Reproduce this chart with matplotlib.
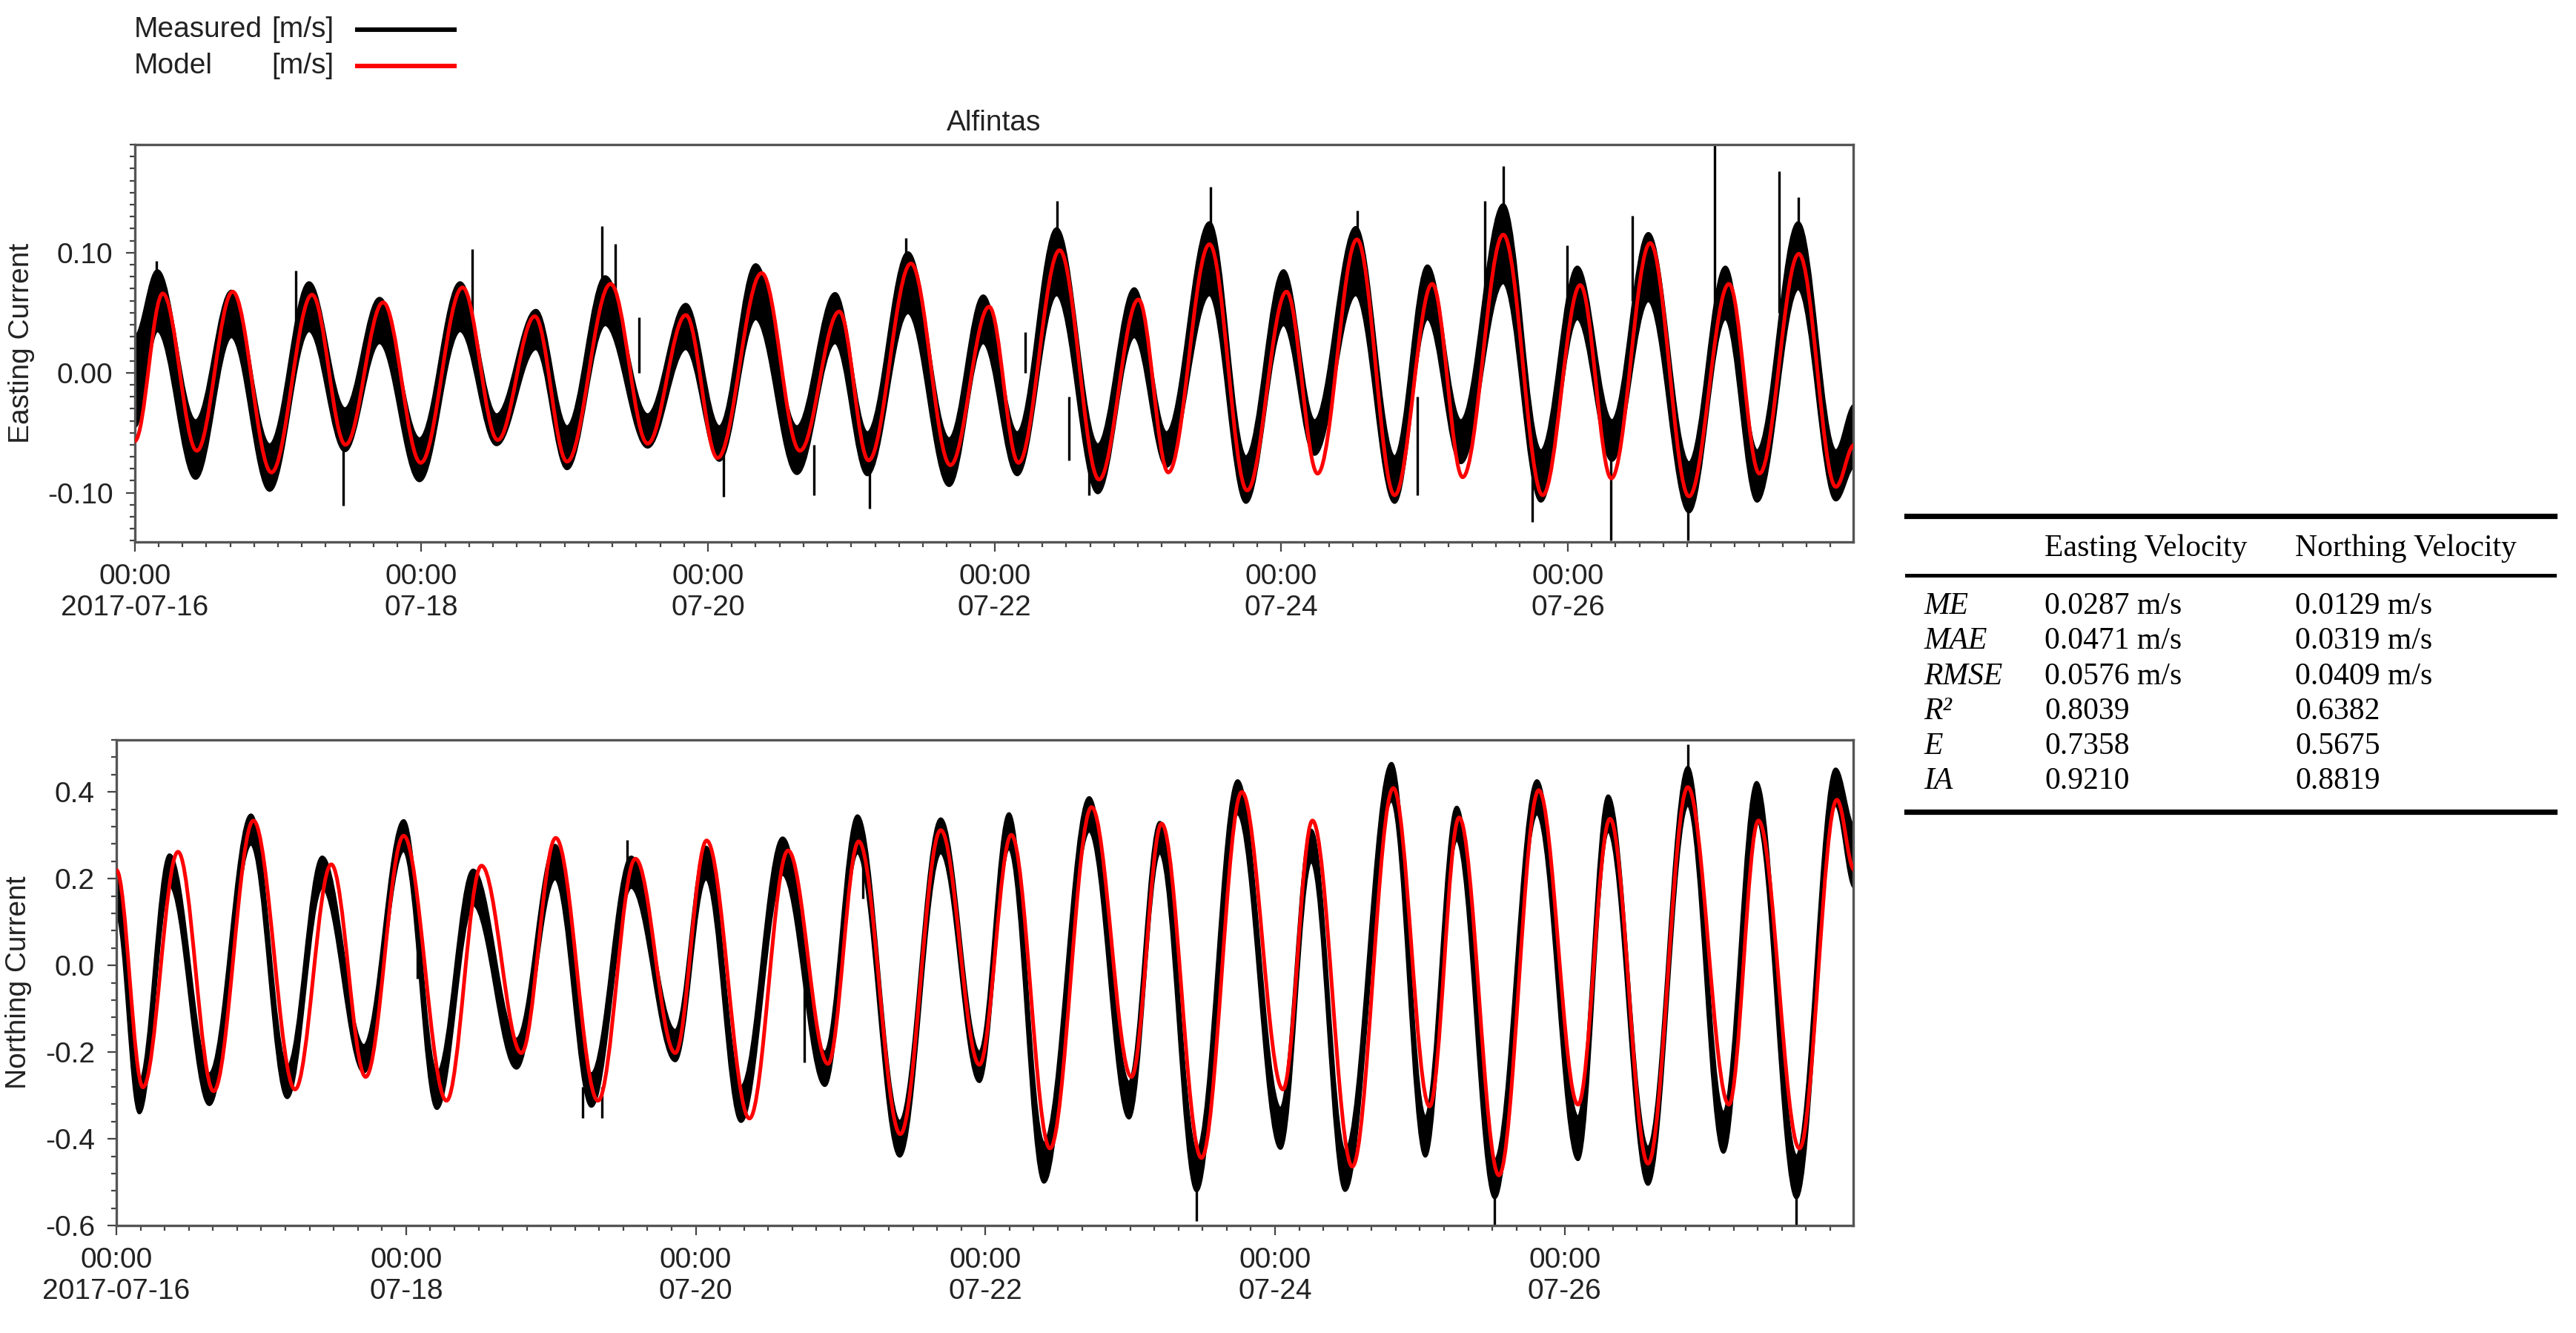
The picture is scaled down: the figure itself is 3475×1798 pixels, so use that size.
import numpy as np
import matplotlib
matplotlib.use('Agg')
import matplotlib.pyplot as plt
import matplotlib.dates as mdates
from matplotlib.path import Path
from matplotlib.patches import PathPatch
from matplotlib.lines import Line2D
from matplotlib.ticker import MultipleLocator, FixedLocator, FormatStrFormatter
from datetime import datetime

# ---- data (hours since 2017-07-16 00:00 at the turning points) ----
# Easting, model (red)
mod_e_t = [0, 4.7, 10.4, 16.4, 22.9, 29.7, 35.3, 41.6, 47.9, 54.9, 60.8, 67.0, 72.4, 79.7, 85.9, 92.3,
           97.6, 105.0, 111.4, 118.0, 122.9, 130.0, 136.6, 143.1, 148.0, 154.9, 161.5, 168.1, 173.1,
           180.0, 186.3, 192.9, 198.1, 204.7, 211.0, 217.3, 222.4, 229.2, 235.8, 242.1, 247.3, 253.8,
           260.3, 267.0, 272.1, 278.7, 284.9, 288]
mod_e_v = [-0.057, 0.066, -0.065, 0.0675, -0.083, 0.065, -0.060, 0.0586, -0.075, 0.071, -0.056, 0.047,
           -0.074, 0.074, -0.059, 0.048, -0.071, 0.083, -0.065, 0.051, -0.073, 0.091, -0.077, 0.055,
           -0.075, 0.102, -0.089, 0.061, -0.083, 0.107, -0.098, 0.0675, -0.084, 0.111, -0.102, 0.074,
           -0.087, 0.115, -0.102, 0.073, -0.088, 0.108, -0.103, 0.074, -0.084, 0.099, -0.095, -0.06]

# Easting, measured (black band: upper / lower edge at each turning point)
meas_e_t = [0, 3.8, 10.2, 16.2, 22.6, 29.2, 35.2, 41.0, 47.7, 54.5, 60.6, 67.2, 72.4, 78.8, 85.9, 92.3,
            97.9, 104.0, 110.9, 117.3, 122.7, 129.5, 136.4, 142.1, 147.8, 154.4, 161.3, 167.4, 172.8,
            180.0, 186.1, 192.4, 197.6, 204.5, 211.0, 216.5, 222.1, 229.2, 235.5, 241.6, 247.4, 253.5,
            260.3, 266.4, 271.7, 278.6, 284.9, 288]
meas_e_hi = [0.03, 0.085, -0.04, 0.068, -0.06, 0.075, -0.03, 0.062, -0.055, 0.075, -0.035, 0.052,
             -0.045, 0.08, -0.035, 0.057, -0.045, 0.09, -0.045, 0.066, -0.05, 0.1, -0.055, 0.064,
             -0.05, 0.12, -0.06, 0.07, -0.05, 0.125, -0.07, 0.085, -0.04, 0.121, -0.07, 0.089,
             -0.04, 0.14, -0.065, 0.088, -0.04, 0.116, -0.075, 0.088, -0.065, 0.125, -0.065, -0.027]
meas_e_lo = [-0.045, 0.035, -0.088, 0.03, -0.098, 0.035, -0.065, 0.025, -0.09, 0.035, -0.06, 0.02,
             -0.08, 0.04, -0.062, 0.02, -0.073, 0.045, -0.084, 0.025, -0.085, 0.05, -0.094, 0.025,
             -0.085, 0.065, -0.10, 0.03, -0.078, 0.065, -0.108, 0.04, -0.068, 0.065, -0.108, 0.045,
             -0.075, 0.075, -0.107, 0.045, -0.073, 0.06, -0.116, 0.045, -0.107, 0.07, -0.106, -0.078]

# Easting, single spikes in the measured record: time, from, to
spk_e_t = [3.6, 27.0, 34.9, 56.5, 78.3, 80.5, 84.5, 98.6, 113.8, 123.1, 129.1, 149.1, 154.5, 156.4,
           159.8, 180.2, 204.7, 214.8, 226.1, 229.2, 234.1, 239.9, 247.2, 250.8, 260.1, 264.6, 275.4, 278.6]
spk_e_y0 = [0.06, 0.04, -0.05, 0.04, 0.06, 0.06, 0.0, -0.06, -0.06, -0.06, 0.09, 0.0, 0.1, -0.02,
            -0.06, 0.1, 0.11, -0.02, 0.06, 0.12, -0.08, 0.06, -0.06, 0.06, -0.09, 0.05, 0.05, 0.1]
spk_e_y1 = [0.093, 0.085, -0.111, 0.103, 0.122, 0.107, 0.046, -0.103, -0.102, -0.113, 0.112, 0.034,
            0.143, -0.073, -0.102, 0.155, 0.135, -0.102, 0.143, 0.172, -0.124, 0.106, -0.14, 0.131,
            -0.14, 0.19, 0.168, 0.146]

# Northing, model (red)
mod_n_t = [0, 4.4, 10.2, 16.1, 22.7, 29.6, 35.6, 41.3, 47.6, 54.7, 60.5, 67.1, 72.8, 79.8, 86.0, 92.6,
           97.8, 104.9, 111.3, 117.9, 123.0, 129.9, 136.6, 143.0, 148.3, 154.7, 161.6, 168.2, 173.2,
           179.8, 186.5, 193.3, 198.2, 204.8, 211.6, 217.6, 222.5, 229.1, 235.7, 242.2, 247.5, 253.8,
           260.4, 267.2, 272.1, 278.9, 285.1, 288]
mod_n_v = [0.22, -0.281, 0.262, -0.290, 0.334, -0.286, 0.233, -0.257, 0.299, -0.312, 0.230, -0.202,
           0.294, -0.312, 0.246, -0.202, 0.288, -0.353, 0.265, -0.227, 0.286, -0.389, 0.312, -0.229,
           0.301, -0.422, 0.365, -0.257, 0.327, -0.444, 0.40, -0.286, 0.334, -0.464, 0.409, -0.325,
           0.341, -0.484, 0.404, -0.321, 0.338, -0.457, 0.411, -0.321, 0.334, -0.422, 0.382, 0.22]

# Northing, measured
meas_n_t = [0, 3.8, 8.8, 15.4, 22.3, 28.3, 34.1, 41.0, 47.6, 53.1, 59.1, 66.3, 72.7, 78.7, 85.3, 92.6,
            97.7, 103.5, 110.4, 117.4, 122.8, 129.8, 136.6, 143.0, 147.9, 153.7, 161.2, 167.8, 172.9,
            179.0, 185.8, 192.9, 198.0, 203.6, 211.3, 216.9, 222.1, 228.4, 235.4, 242.2, 247.2, 253.8,
            260.4, 266.3, 271.8, 278.4, 284.9, 288]
meas_n_hi = [0.2, -0.27, 0.255, -0.25, 0.347, -0.235, 0.25, -0.185, 0.334, -0.25, 0.22, -0.17, 0.277,
             -0.25, 0.25, -0.15, 0.273, -0.28, 0.294, -0.2, 0.345, -0.36, 0.338, -0.2, 0.35, -0.41,
             0.387, -0.27, 0.33, -0.43, 0.426, -0.33, 0.312, -0.43, 0.466, -0.35, 0.365, -0.45, 0.426,
             -0.35, 0.391, -0.42, 0.457, -0.34, 0.422, -0.44, 0.453, 0.32]
meas_n_lo = [0.12, -0.34, 0.185, -0.321, 0.28, -0.305, 0.18, -0.246, 0.265, -0.33, 0.14, -0.237, 0.2,
             -0.325, 0.18, -0.22, 0.2, -0.36, 0.21, -0.277, 0.26, -0.44, 0.26, -0.268, 0.27, -0.50,
             0.31, -0.352, 0.26, -0.52, 0.35, -0.422, 0.24, -0.519, 0.38, -0.44, 0.29, -0.536, 0.35,
             -0.448, 0.31, -0.505, 0.37, -0.431, 0.34, -0.536, 0.37, 0.18]

spk_n_t = [49.9, 77.3, 80.4, 84.6, 114.0, 123.7, 179.0, 228.4, 260.4, 278.4]
spk_n_y0 = [0.06, -0.28, -0.28, 0.2, -0.05, 0.3, -0.45, -0.5, 0.42, -0.5]
spk_n_y1 = [-0.03, -0.352, -0.352, 0.29, -0.224, 0.154, -0.589, -0.598, 0.51, -0.598]

# x axis ticks
tick_days = [datetime(2017, 7, d) for d in (16, 18, 20, 22, 24, 26)]
tick_labels = ['00:00\n2017-07-16', '00:00\n07-18', '00:00\n07-20',
               '00:00\n07-22', '00:00\n07-24', '00:00\n07-26']

# statistics table
stat_names = ['ME', 'MAE', 'RMSE', 'R²', 'E', 'IA']
stat_east = ['0.0287 m/s', '0.0471 m/s', '0.0576 m/s', '0.8039', '0.7358', '0.9210']
stat_north = ['0.0129 m/s', '0.0319 m/s', '0.0409 m/s', '0.6382', '0.5675', '0.8819']

plt.rcParams['font.family'] = ['Liberation Sans', 'DejaVu Sans']
plt.rcParams['axes.unicode_minus'] = False

TXT = '#222222'
t0 = mdates.date2num(datetime(2017, 7, 16))


def to_x(h):
    return t0 + np.asarray(h, dtype=float) / 24.0


def bezier_verts(h, v):
    # smooth curve through the turning points, flat at each of them
    x = to_x(h)
    verts = [(x[0], v[0])]
    for i in range(1, len(x)):
        d = 0.36 * (x[i] - x[i - 1])
        verts += [(x[i - 1] + d, v[i - 1]), (x[i] - d, v[i]), (x[i], v[i])]
    return verts


def model_line(ax, h, v):
    verts = bezier_verts(h, v)
    codes = [Path.MOVETO] + [Path.CURVE4] * (len(verts) - 1)
    ax.add_patch(PathPatch(Path(verts, codes), fill=False, ec='#ff0000', lw=1.8, zorder=3))


def measured_band(ax, h, hi, lo, sp_t, sp_y0, sp_y1):
    up = bezier_verts(h, hi)
    dn = bezier_verts(h, lo)[::-1]
    verts = up + dn + [up[0]]
    codes = ([Path.MOVETO] + [Path.CURVE4] * (len(up) - 1) + [Path.LINETO]
             + [Path.CURVE4] * (len(dn) - 1) + [Path.CLOSEPOLY])
    ax.add_patch(PathPatch(Path(verts, codes), fc='k', ec='k', lw=1.4, zorder=2))
    ax.vlines(to_x(sp_t), sp_y0, sp_y1, color='k', lw=1.2, zorder=2)


def style_axes(ax):
    for s in ax.spines.values():
        s.set_color('#555555')
        s.set_linewidth(1.2)
    ax.tick_params(which='both', direction='out', top=False, right=False,
                   color='#444444', labelcolor=TXT, labelsize=14, width=0.8)
    ax.tick_params(which='major', length=4.5, pad=6)
    ax.tick_params(which='minor', length=2.5)
    ax.xaxis.set_major_locator(FixedLocator(mdates.date2num(tick_days)))
    ax.set_xticklabels(tick_labels)
    ax.xaxis.set_minor_locator(MultipleLocator(4 / 24.0))
    ax.set_xlim(t0, to_x(287.8))


fig = plt.figure(figsize=(17.375, 8.99), dpi=200)

# Easting panel
ax1 = fig.add_axes([0.0523, 0.5934, 0.6671, 0.2981])
measured_band(ax1, meas_e_t, meas_e_hi, meas_e_lo, spk_e_t, spk_e_y0, spk_e_y1)
model_line(ax1, mod_e_t, mod_e_v)
style_axes(ax1)
ax1.set_ylim(-0.141, 0.190)
ax1.yaxis.set_major_locator(FixedLocator([-0.10, 0.0, 0.10]))
ax1.yaxis.set_major_formatter(FormatStrFormatter('%.2f'))
ax1.yaxis.set_minor_locator(MultipleLocator(0.01))
ax1.set_ylabel('Easting Current', fontsize=14, color=TXT)
ax1.yaxis.set_label_coords(-0.058, 0.5)
ax1.set_title('Alfintas', fontsize=14, color=TXT, pad=7)

# Northing panel
ax2 = fig.add_axes([0.0452, 0.0806, 0.6742, 0.3643])
measured_band(ax2, meas_n_t, meas_n_hi, meas_n_lo, spk_n_t, spk_n_y0, spk_n_y1)
model_line(ax2, mod_n_t, mod_n_v)
style_axes(ax2)
ax2.set_ylim(-0.6, 0.52)
ax2.yaxis.set_major_locator(FixedLocator([-0.6, -0.4, -0.2, 0.0, 0.2, 0.4]))
ax2.yaxis.set_major_formatter(FormatStrFormatter('%.1f'))
ax2.yaxis.set_minor_locator(MultipleLocator(0.04))
ax2.set_ylabel('Northing Current', fontsize=14, color=TXT)
ax2.yaxis.set_label_coords(-0.0485, 0.5)

# legend at the top left
leg_y = [0.9778, 0.9505]
for y, name, col in zip(leg_y, ['Measured', 'Model'], ['k', '#ff0000']):
    fig.text(0.0521, y, name, fontsize=14, color=TXT, va='center')
    fig.text(0.1053, y, '[m/s]', fontsize=14, color=TXT, va='center')
    fig.add_artist(Line2D([0.1387, 0.1764], [y, y], transform=fig.transFigure, color=col, lw=2.2))

# statistics table (right)
serif = ['Liberation Serif', 'DejaVu Serif']
tx0, tx1 = 0.7401, 0.9917
for y, lw in [(0.6129, 2.6), (0.5684, 1.8), (0.3910, 2.6)]:
    fig.add_artist(Line2D([tx0, tx1], [y, y], transform=fig.transFigure, color='k', lw=lw))
fig.text(0.7937, 0.5885, 'Easting Velocity', family=serif, fontsize=15, va='center', color='k')
fig.text(0.8909, 0.5885, 'Northing Velocity', family=serif, fontsize=15, va='center', color='k')
row_y = 0.5450
for name, e, n in zip(stat_names, stat_east, stat_north):
    fig.text(0.7468, row_y, name, family=serif, style='italic', fontsize=15, va='center', color='k')
    fig.text(0.7937, row_y, e, family=serif, fontsize=15, va='center', color='k')
    fig.text(0.8909, row_y, n, family=serif, fontsize=15, va='center', color='k')
    row_y -= 0.0262

fig.savefig('out.png', dpi=200)
